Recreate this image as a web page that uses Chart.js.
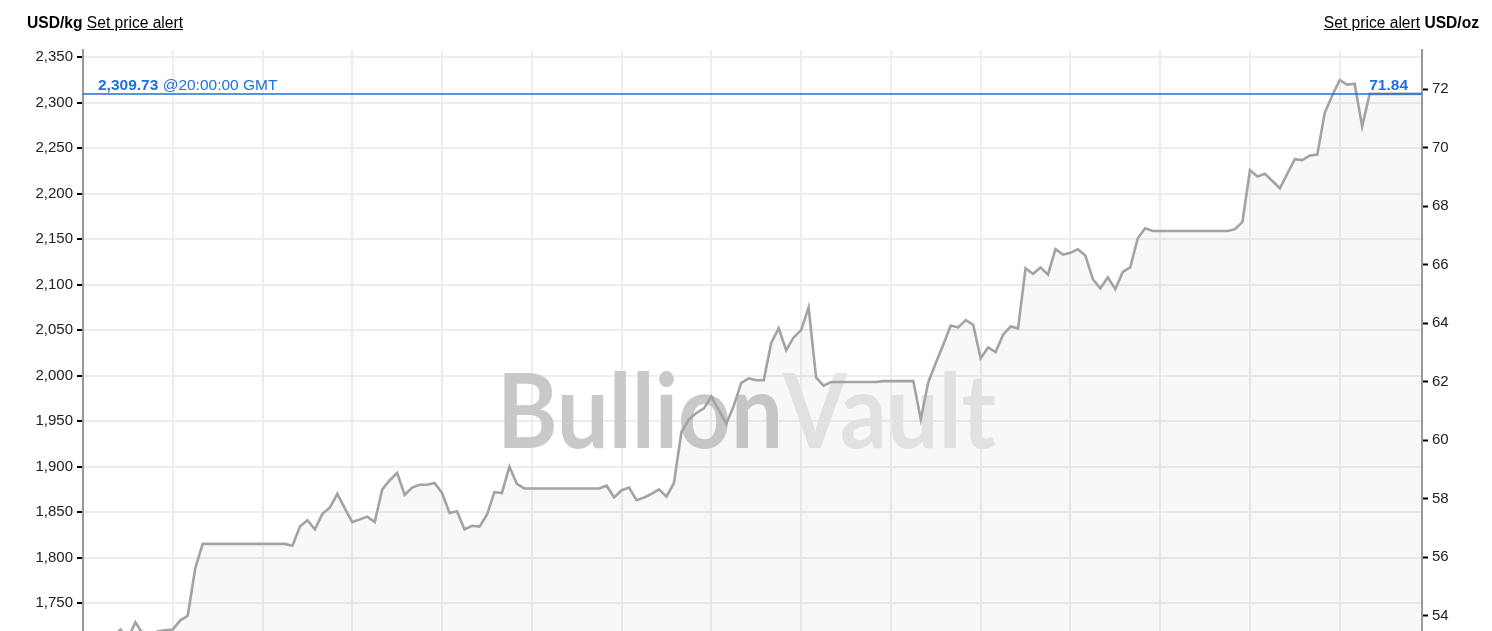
<!DOCTYPE html>
<html>
<head>
<meta charset="utf-8">
<script src="https://cdn.jsdelivr.net/npm/chart.js@4.4.1/dist/chart.umd.min.js"></script>
<style>
  html, body { margin: 0; padding: 0; overflow: hidden; background: #fff; }
  body { width: 1492px; height: 631px; position: relative; font-family: "Liberation Sans", Arial, sans-serif; }
  .hdr { position: absolute; top: 14px; font-size: 15.6px; color: #000; white-space: nowrap; z-index: 2; }
  .hdr b { font-weight: bold; }
  .hdr a { color: #000; text-decoration: underline; }
  #hdrLeft { left: 27px; }
  #hdrRight { right: 13px; }
  #wrap { position: absolute; left: 0; top: 0; width: 1492px; height: 707px; }
</style>
</head>
<body>
<div class="hdr" id="hdrLeft"><b>USD/kg</b> <a href="#">Set price alert</a></div>
<div class="hdr" id="hdrRight"><a href="#">Set price alert</a> <b>USD/oz</b></div>
<div id="wrap"><canvas id="priceChart"></canvas></div>
<script>
// prices in USD/kg, one per period; the last value runs flat to the right edge
var priceKg = [
  1710, 1706, 1709, 1704, 1712, 1721, 1711, 1729, 1716, 1712,
  1719, 1720, 1721, 1731, 1736, 1788, 1815, 1815, 1815, 1815,
  1815, 1815, 1815, 1815, 1815, 1815, 1815, 1815, 1813, 1834,
  1841, 1831, 1848, 1855, 1870, 1854, 1839, 1842, 1845, 1839,
  1875, 1885, 1893, 1869, 1877, 1880, 1880, 1882, 1871, 1849,
  1851, 1831, 1835, 1834, 1847, 1872, 1871, 1900, 1881, 1876,
  1876, 1876, 1876, 1876, 1876, 1876, 1876, 1876, 1876, 1876,
  1879, 1866, 1874, 1877, 1863, 1866, 1870, 1875, 1867, 1882,
  1938, 1952, 1959, 1964, 1977, 1962, 1947, 1967, 1992, 1997,
  1995, 1995, 2036, 2052, 2028, 2042, 2050, 2075, 1998, 1989,
  1993, 1993, 1993, 1993, 1993, 1993, 1993, 1994, 1994, 1994,
  1994, 1994, 1952, 1993, 2014, 2034, 2055, 2053, 2061, 2056,
  2019, 2031, 2026, 2045, 2054, 2052, 2118, 2112, 2119, 2111,
  2139, 2133, 2135, 2139, 2132, 2106, 2096, 2108, 2095, 2114,
  2119, 2151, 2162, 2159, 2159, 2159, 2159, 2159, 2159, 2159,
  2159, 2159, 2159, 2159, 2161, 2169, 2226, 2219, 2222, 2214,
  2206, 2222, 2238, 2237, 2242, 2243, 2289, 2308, 2325, 2320,
  2321, 2274, 2309.73, 2309.73, 2309.73, 2309.73, 2309.73, 2309.73, 2309.73, 2309.73
];

var periods = [];
for (var p = 0; p < priceKg.length; p++) {
  periods.push('Period ' + (p + 1));
}

var kgTicks = [1700, 1750, 1800, 1850, 1900, 1950, 2000, 2050, 2100, 2150, 2200, 2250, 2300, 2350];
var ozTicks = [52, 54, 56, 58, 60, 62, 64, 66, 68, 70, 72];

var lastKg = 2309.73;
var lastOz = 71.84;
var lastTime = '@20:00:00 GMT';

var kgPerOz = 32.1507466;
var kgMin = 1650;
var kgMax = 2358;

var tickFont = { family: '"Liberation Sans", Arial, sans-serif', size: 15 };
var blue = '#1f6fdc';

// big logo text behind the line
var watermark = {
  id: 'watermark',
  beforeDatasetsDraw: function(chart) {
    var ctx = chart.ctx;
    var area = chart.chartArea;
    ctx.save();
    ctx.font = 'bold 104px Lato, sans-serif';
    var w1 = ctx.measureText('Bullion').width;
    var w2 = ctx.measureText('Vault').width;
    var targetW = 499;
    var sx = targetW / (w1 + w2);
    var x0 = 497;
    var base = area.top + 398;
    ctx.translate(x0, base);
    ctx.scale(sx, 1);
    ctx.textBaseline = 'alphabetic';
    ctx.fillStyle = '#c9c9c9';
    ctx.fillText('Bullion', 0, 0);
    ctx.fillStyle = '#e6e6e6';
    ctx.fillText('Vault', w1, 0);
    ctx.restore();
  }
};

// current price line with labels
var priceLine = {
  id: 'priceLine',
  afterDatasetsDraw: function(chart) {
    var ctx = chart.ctx;
    var area = chart.chartArea;
    var y = chart.scales.y.getPixelForValue(lastKg);
    ctx.save();
    ctx.strokeStyle = blue;
    ctx.lineWidth = 1.5;
    ctx.beginPath();
    ctx.moveTo(area.left, y);
    ctx.lineTo(area.right, y);
    ctx.stroke();

    ctx.fillStyle = blue;
    ctx.textBaseline = 'alphabetic';
    ctx.font = 'bold 15.5px "Liberation Sans", Arial, sans-serif';
    var txt = lastKg.toLocaleString('en-US', { minimumFractionDigits: 2 });
    ctx.textAlign = 'left';
    ctx.fillText(txt, area.left + 15, y - 4);
    var w = ctx.measureText(txt).width;
    ctx.font = '15.5px "Liberation Sans", Arial, sans-serif';
    ctx.fillText(' ' + lastTime, area.left + 15 + w, y - 4);

    ctx.font = 'bold 15.5px "Liberation Sans", Arial, sans-serif';
    ctx.textAlign = 'right';
    ctx.fillText(lastOz.toFixed(2), area.right - 14, y - 4);
    ctx.restore();
  }
};

var ctx = document.getElementById('priceChart').getContext('2d');
var chart = new Chart(ctx, {
  type: 'line',
  data: {
    labels: periods,
    datasets: [{
      data: priceKg,
      borderColor: '#a3a3a3',
      borderWidth: 2.6,
      pointRadius: 0,
      tension: 0,
      fill: 'start',
      backgroundColor: 'rgba(180,180,170,0.09)'
    }]
  },
  options: {
    responsive: true,
    maintainAspectRatio: false,
    animation: false,
    layout: { padding: { top: 50, left: 0, right: 0, bottom: 0 } },
    plugins: {
      legend: { display: false },
      tooltip: { enabled: false }
    },
    scales: {
      x: {
        type: 'category',
        offset: false,
        border: { display: false },
        ticks: { display: false, autoSkip: false },
        grid: {
          drawTicks: false,
          lineWidth: 2,
          color: function(c) {
            return (c.index > 0 && c.index % 12 === 0) ? '#ededed' : 'rgba(0,0,0,0)';
          }
        }
      },
      y: {
        position: 'left',
        min: kgMin,
        max: kgMax,
        afterBuildTicks: function(scale) {
          scale.ticks = kgTicks.map(function(v) { return { value: v }; });
        },
        afterFit: function(scale) { scale.width = 83; },
        border: { display: true, color: '#999', width: 2 },
        grid: {
          color: '#ededed',
          lineWidth: 2,
          tickLength: 6,
          tickColor: '#000',
          tickWidth: 2
        },
        ticks: {
          color: '#222',
          font: tickFont,
          padding: 4,
          callback: function(v) { return Number(v).toLocaleString('en-US'); }
        }
      },
      y2: {
        position: 'right',
        min: kgMin / kgPerOz,
        max: kgMax / kgPerOz,
        afterBuildTicks: function(scale) {
          scale.ticks = ozTicks.map(function(v) { return { value: v }; });
        },
        afterFit: function(scale) { scale.width = 70; },
        border: { display: true, color: '#999', width: 2 },
        grid: {
          drawOnChartArea: false,
          tickLength: 6,
          tickColor: '#000',
          tickWidth: 2
        },
        ticks: {
          color: '#222',
          font: tickFont,
          padding: 4,
          callback: function(v) { return String(v); }
        }
      }
    }
  },
  plugins: [watermark, priceLine]
});
</script>
</body>
</html>
